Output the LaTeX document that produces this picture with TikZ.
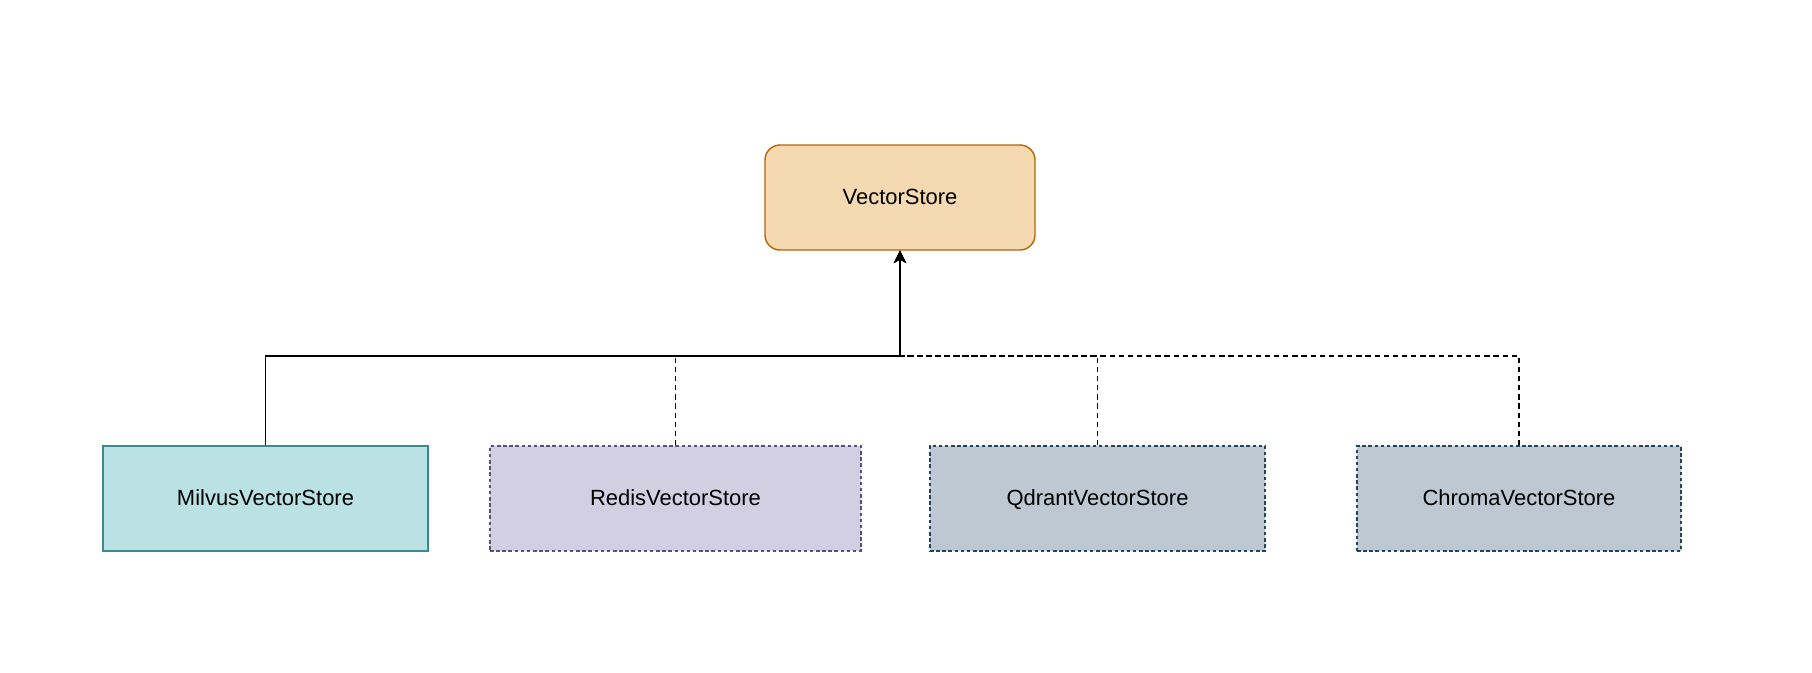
\documentclass[tikz,border=0pt]{standalone}
\usepackage{fontspec}
\setmainfont{Liberation Sans}
\usetikzlibrary{arrows.meta, positioning}
\definecolor{storefill}{HTML}{F5D9B0}
\definecolor{storeline}{HTML}{B46504}
\definecolor{milvusfill}{HTML}{BAE2E4}
\definecolor{milvusline}{HTML}{3A8A8C}
\definecolor{redisfill}{HTML}{D2CFE2}
\definecolor{redisline}{HTML}{56517E}
\definecolor{greyfill}{HTML}{BEC8D3}
\definecolor{greyline}{HTML}{23445D}

\begin{document}
\begin{tikzpicture}[font=\fontsize{12.5}{15}\selectfont,
  main/.style = {draw, rectangle, minimum height=2.1cm, line width=0.8pt, inner sep=0pt,
                 text height=1.45ex, text depth=0pt},
  impl/.style = {main, dash pattern=on 2pt off 1.5pt},
  link/.style = {line width=1pt, -{Stealth[length=7pt, width=7pt, inset=2pt]}},
  dashlink/.style = {link, line width=0.8pt, dash pattern=on 3pt off 2.2pt}]
  \useasboundingbox (0,0) rectangle (36.24,-13.44);

  \node[main, fill=storefill, draw=storeline, rounded corners=0.3cm, minimum width=5.4cm] (store) at (18,-3.95) {VectorStore};

  \node[main, fill=milvusfill, draw=milvusline, minimum width=6.5cm]  (milvus) at (5.31,-9.97)  {MilvusVectorStore};
  \node[impl, fill=redisfill,  draw=redisline,  minimum width=7.42cm] (redis)  at (13.51,-9.97) {RedisVectorStore};
  \node[impl, fill=greyfill,   draw=greyline,   minimum width=6.7cm]  (qdrant) at (21.95,-9.97) {QdrantVectorStore};
  \node[impl, fill=greyfill,   draw=greyline,   minimum width=6.48cm] (chroma) at (30.38,-9.97) {ChromaVectorStore};

  \coordinate (bus) at (18,-7.12);

  % implementations
  \draw[dashlink] (redis.north)  |- (bus) -- (store.south);
  \draw[dashlink] (qdrant.north) |- (bus) -- (store.south);
  \draw[dashlink] (chroma.north) |- (bus) -- (store.south);
  \draw[link]     (milvus.north) |- (bus) -- (store.south);
\end{tikzpicture}
\end{document}
